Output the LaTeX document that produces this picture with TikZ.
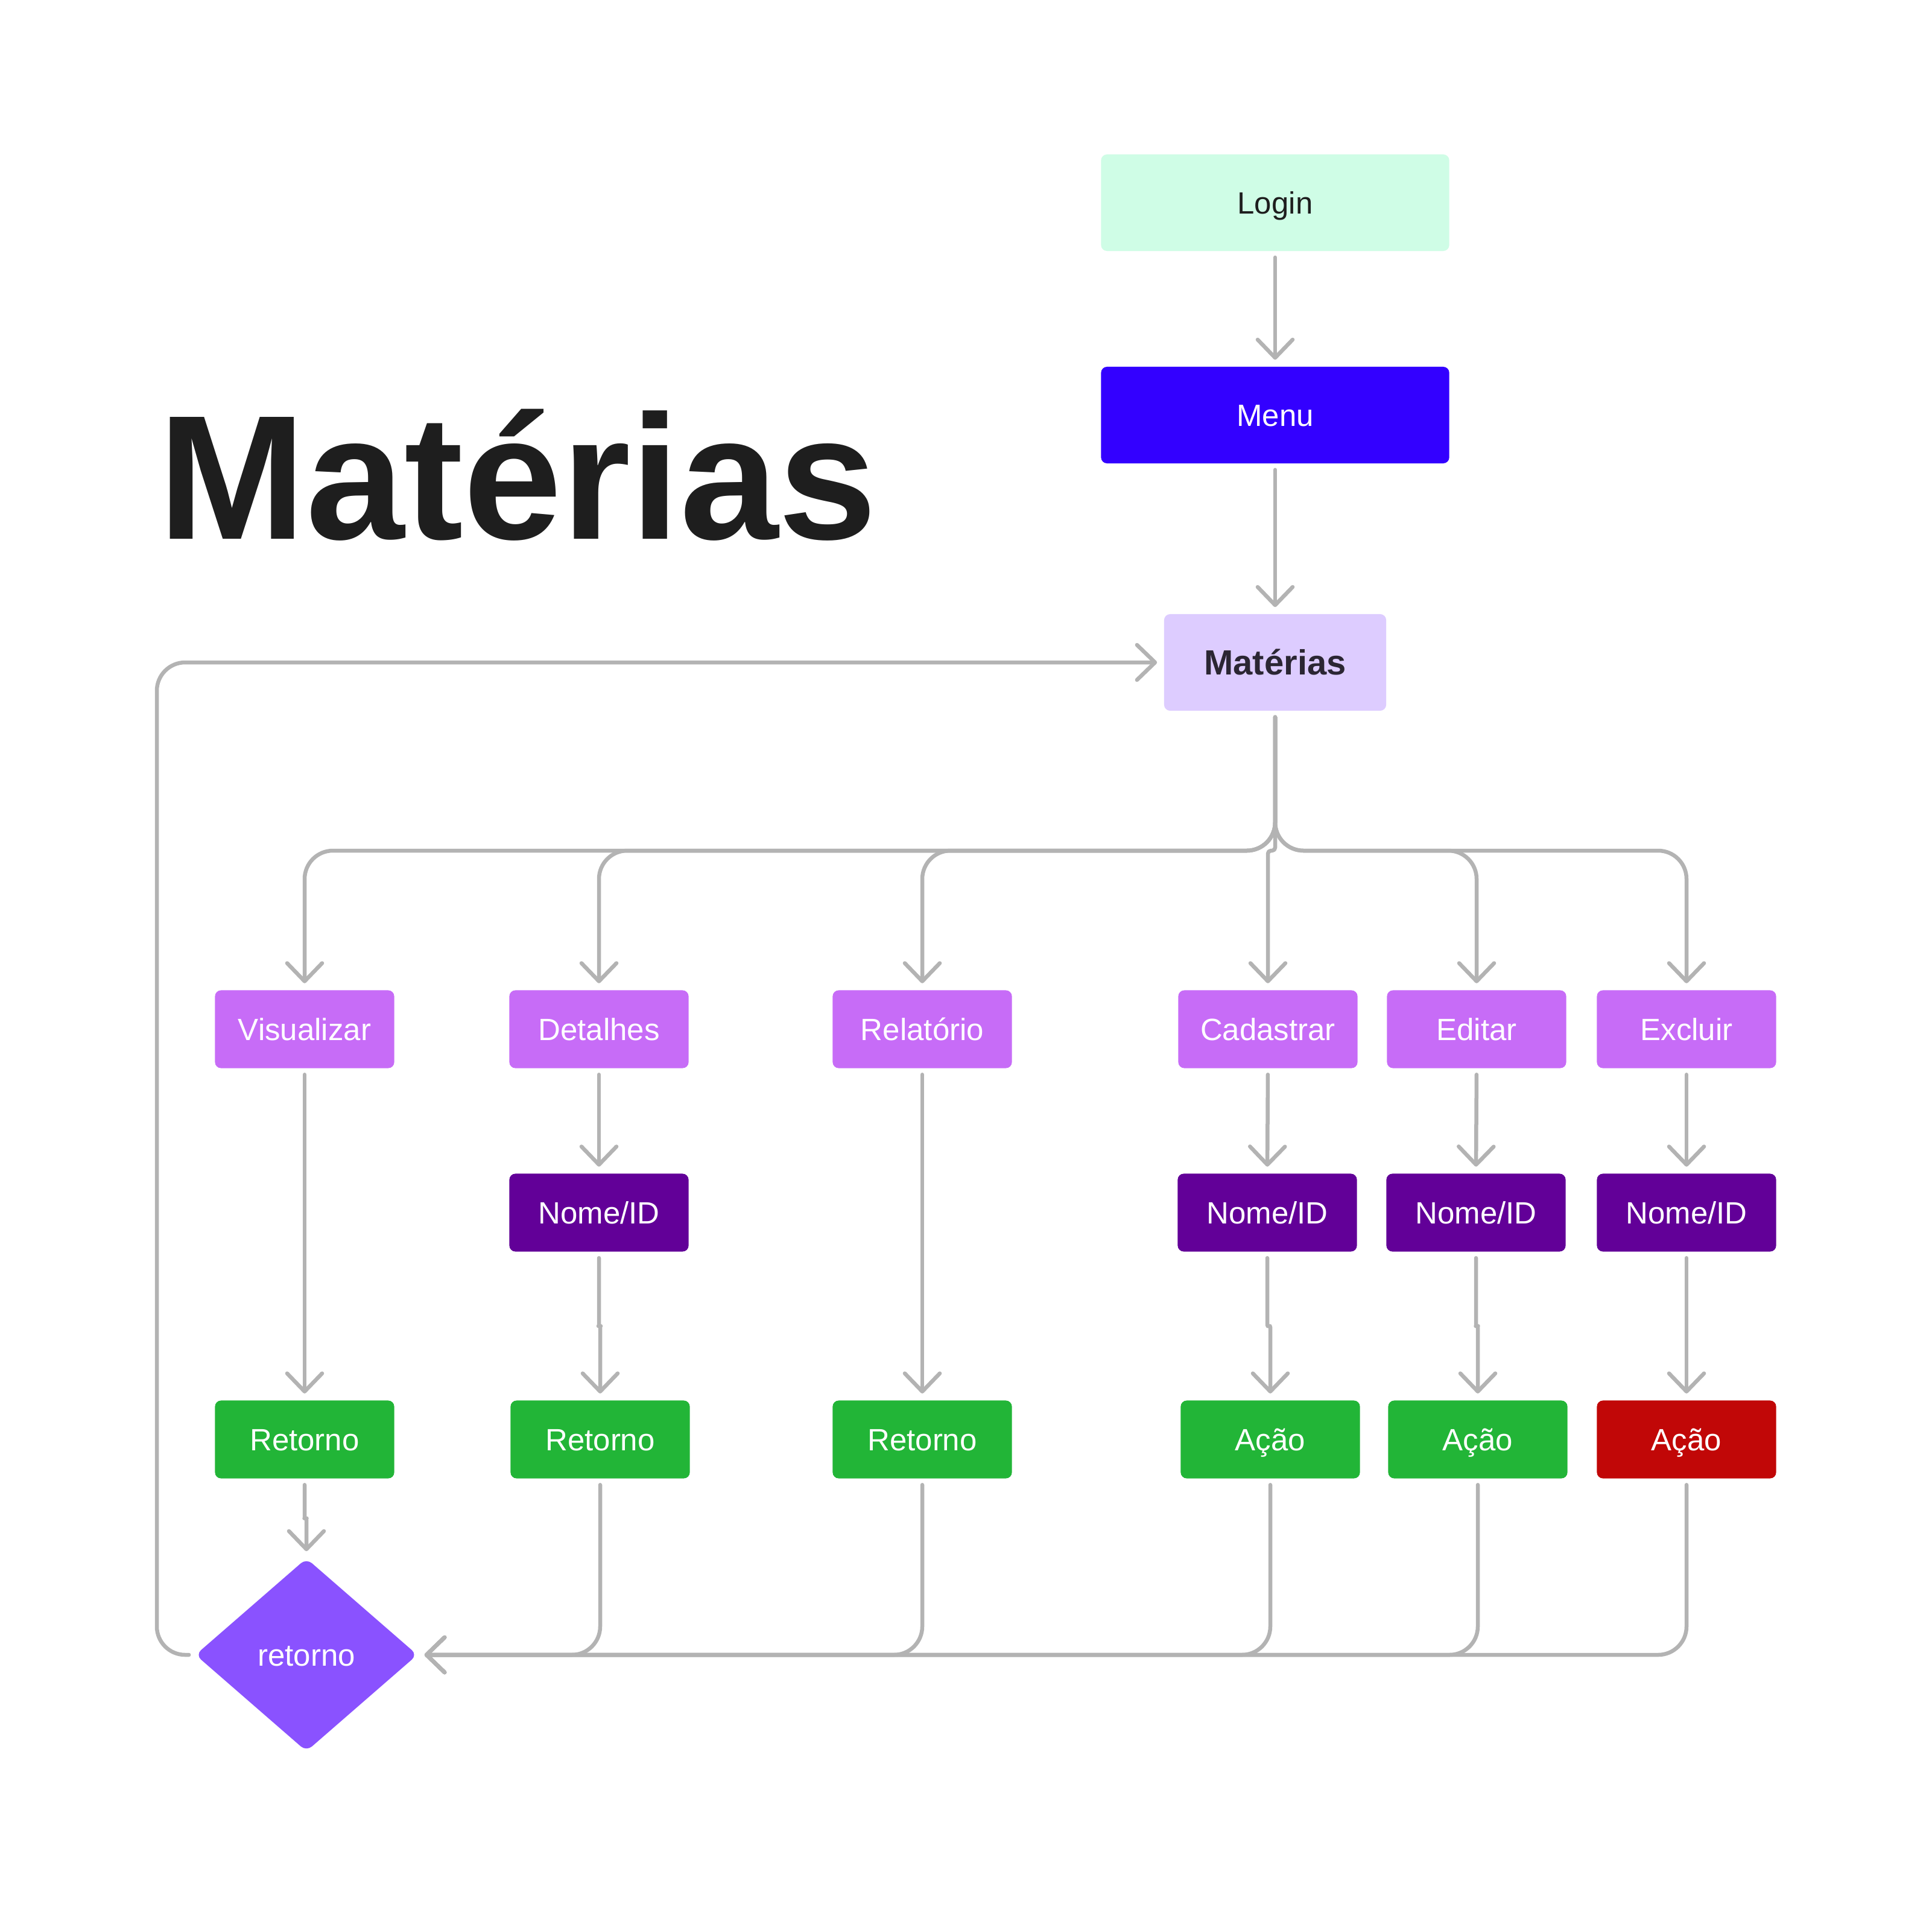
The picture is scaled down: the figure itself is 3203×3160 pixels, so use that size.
\documentclass[tikz,border=0pt]{standalone}
\usepackage{fontspec}
\setmainfont{Liberation Sans}
\usetikzlibrary{arrows.meta,shapes.geometric,calc}
\definecolor{loginfill}{HTML}{CFFDE6}
\definecolor{menufill}{HTML}{3300FF}
\definecolor{matfill}{HTML}{DDCCFF}
\definecolor{lvlfill}{HTML}{C76CF7}
\definecolor{nomefill}{HTML}{620098}
\definecolor{okfill}{HTML}{22B537}
\definecolor{redfill}{HTML}{C10707}
\definecolor{diafill}{HTML}{8A52FF}
\definecolor{linegray}{HTML}{B3B3B3}
\definecolor{titlegray}{HTML}{1E1E1E}
\definecolor{mattext}{HTML}{2B2633}
\tikzset{
  box/.style={rounded corners=0.1cm, minimum width=2.97cm, minimum height=1.29cm,
    inner sep=0pt, text height=10.4pt, text depth=0pt,
    font=\fontsize{14.5}{16}\selectfont, text=white},
  lvl/.style={box, fill=lvlfill},
  nome/.style={box, fill=nomefill},
  okbox/.style={box, fill=okfill},
  redbox/.style={box, fill=redfill},
  conn/.style={draw=linegray, line width=0.065cm, line cap=round, line join=round, rounded corners=0.47cm},
  arr/.style={conn, -{Straight Barb[length=0.3cm, width=0.58cm, round]}, shorten >=0.11cm, shorten <=0.1cm}
}
\begin{document}
\begin{tikzpicture}[x=0.01cm,y=-0.01cm]
\fill[white] (0,0) rectangle (3203,3160);
\useasboundingbox (0,0) rectangle (3203,3160);

\node[anchor=base west, inner sep=0pt, font=\fontsize{83.5}{92}\selectfont\bfseries, text=titlegray] (title) at (262,893) {Matérias};

\node[box, fill=loginfill, text=titlegray, minimum width=5.77cm, minimum height=1.6cm] (login) at (2114,336) {Login};
\node[box, fill=menufill, minimum width=5.77cm, minimum height=1.6cm] (menu) at (2114,688) {Menu};
\node[box, fill=matfill, text=mattext, minimum width=3.68cm, minimum height=1.6cm, text height=11.8pt, font=\fontsize{16.5}{18}\selectfont\bfseries] (mat) at (2114,1098) {Matérias};

\node[lvl] (vis) at (505,1706) {Visualizar};
\node[lvl] (det) at (993,1706) {Detalhes};
\node[lvl] (rel) at (1529,1706) {Relatório};
\node[lvl] (cad) at (2102,1706) {Cadastrar};
\node[lvl] (edi) at (2448,1706) {Editar};
\node[lvl] (exc) at (2796,1706) {Excluir};

\node[nome] (detN) at (993,2010) {Nome/ID};
\node[nome] (cadN) at (2101,2010) {Nome/ID};
\node[nome] (ediN) at (2447,2010) {Nome/ID};
\node[nome] (excN) at (2796,2010) {Nome/ID};

\node[okbox] (visR) at (505,2386) {Retorno};
\node[okbox] (detR) at (995,2386) {Retorno};
\node[okbox] (relR) at (1529,2386) {Retorno};
\node[okbox] (cadA) at (2106,2386) {Ação};
\node[okbox] (ediA) at (2450,2386) {Ação};
\node[redbox] (excA) at (2796,2386) {Ação};

\node[diamond, fill=diafill, minimum width=3.68cm, minimum height=3.2cm, inner sep=0pt,
  rounded corners=0.12cm, text=white, text height=10.4pt, text depth=0pt,
  font=\fontsize{14.5}{16}\selectfont] (dia) at (508,2743) {retorno};

% top chain
\draw[arr] (login) -- (menu);
\draw[arr] (menu) -- (mat);

% branches
\coordinate (bus) at (2114,1410);
\foreach \n in {vis,det,rel,edi,exc}
  \draw[arr] (mat.south) -- (bus) -| (\n.north);
\draw[arr, rounded corners=0.05cm] (mat.south) -- (bus) -| (cad.north);

% verticals
\foreach \a/\b in {vis/visR, det/detN, rel/relR, cad/cadN, edi/ediN, exc/excN, excN/excA}
  \draw[arr] (\a.south) -- (\b.north);
\foreach \a/\b in {detN/detR, cadN/cadA, ediN/ediA, visR/dia}
  \draw[arr, rounded corners=0.02cm] (\a.south) |- ($(\a.south)!0.5!(\b.north)$) -| (\b.north);

% merge into diamond
\foreach \n in {detR,relR,cadA,ediA,excA}
  \draw[arr] (\n.south) |- (dia.east);

% loop back to Matérias
\coordinate (lb) at (260,2743);
\coordinate (lt) at (260,1098);
\draw[arr] (dia.west) -- (lb) -- (lt) -- (mat.west);
\end{tikzpicture}
\end{document}
